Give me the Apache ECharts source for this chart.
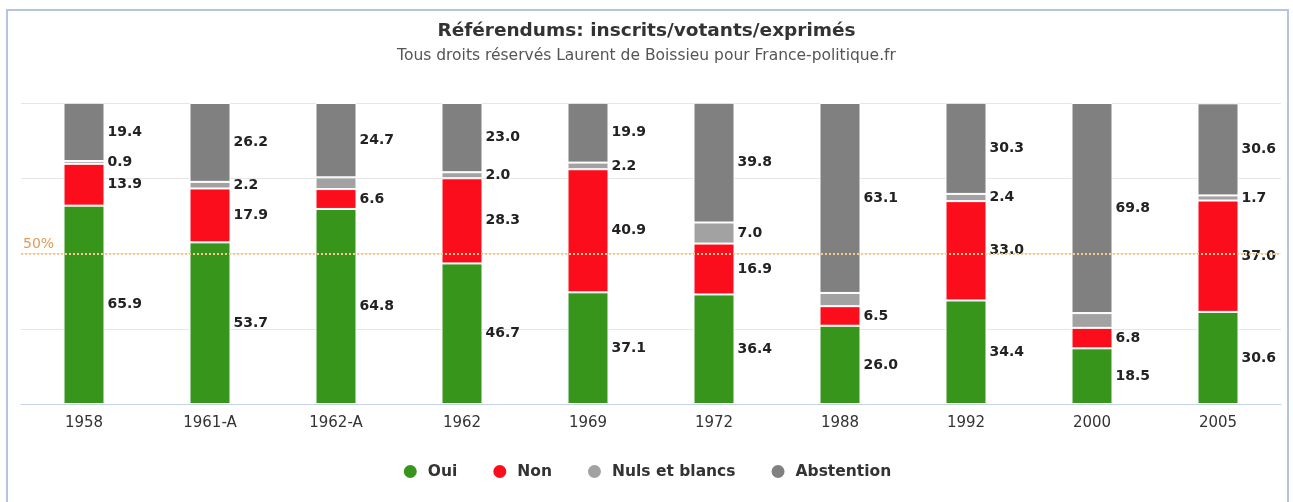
<!DOCTYPE html>
<html>
<head>
<meta charset="utf-8">
<script src="https://cdn.jsdelivr.net/npm/echarts@6/dist/echarts.min.js"></script>
<style>
html,body{margin:0;padding:0;background:#fff;}
#wrap{position:relative;width:1293px;height:502px;overflow:hidden;}
#frame{position:absolute;left:6px;top:9px;width:1283px;height:520px;border:2px solid #b3c6de;border-bottom:none;box-sizing:border-box;}
#chart{position:absolute;left:0;top:0;width:1293px;height:502px;}
</style>
</head>
<body>
<div id="wrap"><div id="frame"></div><div id="chart"></div></div>
<script>
const categories = ['1958','1961-A','1962-A','1962','1969','1972','1988','1992','2000','2005'];
const oui        = [65.9, 53.7, 64.8, 46.7, 37.1, 36.4, 26.0, 34.4, 18.5, 30.6];
const non        = [13.9, 17.9, 6.6, 28.3, 40.9, 16.9, 6.5, 33.0, 6.8, 37.0];
const nuls       = [0.9, 2.2, 3.9, 2.0, 2.2, 7.0, 4.4, 2.4, 4.9, 1.7];
const abstention = [19.4, 26.2, 24.7, 23.0, 19.9, 39.8, 63.1, 30.3, 69.8, 30.6];
const nulsHiddenLabels = ['1962-A','1988','2000'];

const FONT = '"DejaVu Sans", "Open Sans", sans-serif';
const labelCfg = {
  show: true, position: 'right', distance: 3,
  fontFamily: FONT, fontWeight: 'bold', fontSize: 14, color: '#222',
  formatter: p => Number(p.value).toFixed(1)
};
function mkSeries(name, data, color, extra) {
  return Object.assign({
    name, type: 'bar', stack: 'total', barWidth: 41, data,
    itemStyle: { color, borderColor: '#fff', borderWidth: 1 },
    label: labelCfg, emphasis: { disabled: true }
  }, extra || {});
}
const nulsData = nuls.map((v, i) => nulsHiddenLabels.includes(categories[i]) ? { value: v, label: { show: false } } : v);

const chart = echarts.init(document.getElementById('chart'));
chart.setOption({
  animation: false,
  title: {
    text: 'Référendums: inscrits/votants/exprimés',
    subtext: 'Tous droits réservés Laurent de Boissieu pour France-politique.fr',
    left: 'center', top: 15, itemGap: 5,
    textStyle: { fontFamily: FONT, fontSize: 18.5, fontWeight: 'bold', color: '#333', lineHeight: 22 },
    subtextStyle: { fontFamily: FONT, fontSize: 15.5, color: '#555', lineHeight: 18 }
  },
  legend: {
    left: 'center', top: 458, icon: 'circle', itemWidth: 25, itemHeight: 15, itemGap: 34,
    textStyle: { fontFamily: FONT, fontSize: 15.5, fontWeight: 'bold', color: '#333' },
    data: ['Oui','Non','Nuls et blancs','Abstention']
  },
  grid: { left: 21, right: 12, top: 103, bottom: 98, containLabel: false },
  xAxis: {
    type: 'category', data: categories,
    axisLine: { lineStyle: { color: '#c5d3e8', width: 1 } },
    axisTick: { show: false },
    axisLabel: { fontFamily: FONT, fontSize: 15, color: '#333', margin: 12 }
  },
  yAxis: {
    type: 'value', min: 0, max: 100, interval: 25,
    axisLabel: { show: false }, axisLine: { show: false }, axisTick: { show: false },
    splitLine: { lineStyle: { color: '#e6e6e6' } }
  },
  series: [
    mkSeries('Oui', oui, '#37951c', {
      markLine: {
        silent: true, symbol: 'none',
        lineStyle: { color: '#f8c890', type: 'dotted', width: 2 },
        label: { position: 'insideStartTop', formatter: '50%', color: '#e29a55', fontFamily: FONT, fontSize: 14, distance: 2 },
        data: [{ yAxis: 50 }]
      }
    }),
    mkSeries('Non', non, '#fc0d1b'),
    mkSeries('Nuls et blancs', nulsData, '#a2a2a2'),
    mkSeries('Abstention', abstention, '#808080')
  ]
});
</script>
</body>
</html>
